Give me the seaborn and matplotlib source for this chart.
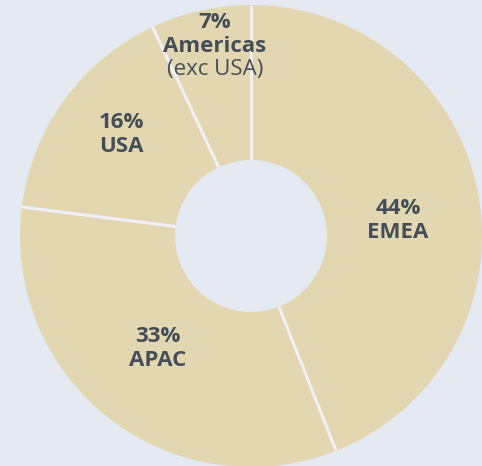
import numpy as np
import matplotlib
matplotlib.use("Agg")
import matplotlib.pyplot as plt
import seaborn as sns

# data
regions = ["EMEA", "APAC", "USA", "Americas"]
shares = [44, 33, 16, 7]
sublabels = ["", "", "", "(exc USA)"]

BG = "#e4e9f2"
WEDGE = "#e3d7b1"
SEP = "#eef1f6"
TEXT = "#444e59"

sns.set_theme(style="white")
plt.rcParams["font.family"] = ["Open Sans", "DejaVu Sans"]

fig = plt.figure(figsize=(4.82, 4.66), dpi=100, facecolor=BG)
ax = fig.add_axes([0, 0, 1, 1])
ax.set_facecolor(BG)

cx, cy = 251, 230
r_out, r_in = 231, 76

ax.pie(shares, startangle=90, counterclock=False, colors=[WEDGE] * len(shares),
       radius=r_out, center=(cx, cy),
       wedgeprops=dict(width=r_out - r_in, linewidth=0))

# separator lines between wedges
bounds = 90 - np.cumsum([0] + shares[:-1]) * 3.6
for a in np.deg2rad(bounds):
    ax.plot([cx + r_in * np.cos(a), cx + r_out * np.cos(a)],
            [cy + r_in * np.sin(a), cy + r_out * np.sin(a)],
            color=SEP, lw=2.2, solid_capstyle="butt", zorder=3)

# label anchors: centre of first line (pixel layout, top-origin)
label_pos = {"EMEA": (398, 209), "APAC": (158, 337), "USA": (121, 122), "Americas": (215, 22)}
step = 24
for name, val, sub in zip(regions, shares, sublabels):
    x, y = label_pos[name]
    y = 466 - y
    kw = dict(ha="center", va="center", fontsize=16, color=TEXT, zorder=4)
    ax.text(x, y, f"{val}%", fontweight="bold", **kw)
    ax.text(x, y - step, name, fontweight="bold", **kw)
    if sub:
        ax.text(x, y - 2 * step, sub, **kw)

ax.set_xlim(0, 482)
ax.set_ylim(0, 466)
ax.set_aspect("auto")
ax.axis("off")

fig.savefig("out.png", dpi=100, facecolor=BG)
